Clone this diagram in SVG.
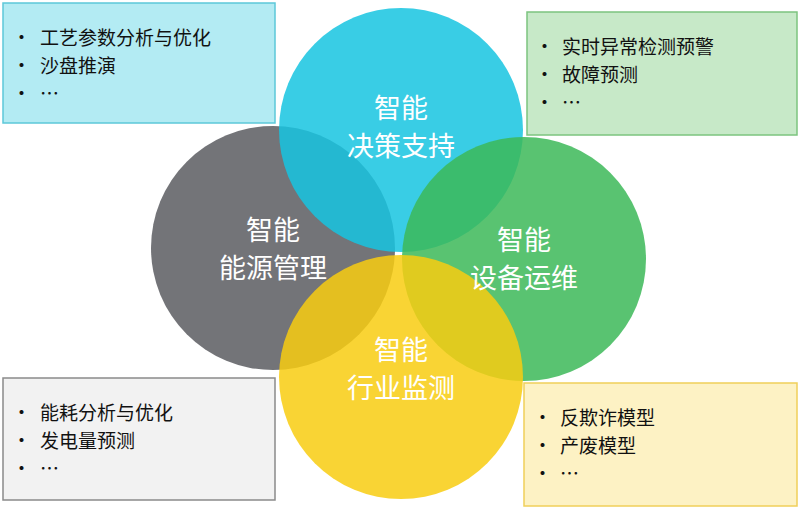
<svg xmlns="http://www.w3.org/2000/svg" width="800" height="508" viewBox="0 0 800 508">
<style>
text{font-family:"Noto Sans CJK SC","Liberation Sans",sans-serif}
.c{opacity:0.85}
.ct{fill:#fff;font-size:27px;text-anchor:middle}
.bt{fill:#111;font-size:19px}
</style>
<rect width="800" height="508" fill="#fff"/>
<g id="nodes">
<g id="energy"><circle class="c" cx="273" cy="248" r="122" fill="#5a5c60"/></g>
<g id="decision"><circle class="c" cx="401" cy="130" r="122" fill="#16c4e0"/></g>
<g id="device"><circle class="c" cx="524" cy="259" r="122" fill="#3cb858"/></g>
<g id="industry"><circle class="c" cx="401" cy="377" r="122" fill="#f8cc10"/></g>
<g id="labels">
<text class="ct" x="401" y="118">智能</text><text class="ct" x="401" y="156">决策支持</text>
<text class="ct" x="273" y="240">智能</text><text class="ct" x="273" y="278">能源管理</text>
<text class="ct" x="524" y="250">智能</text><text class="ct" x="524" y="288">设备运维</text>
<text class="ct" x="401" y="360">智能</text><text class="ct" x="401" y="398">行业监测</text>
</g>
<g id="box-tl"><rect x="3" y="3" width="272" height="120" fill="#b3ebf3" stroke="#5cc8d9" stroke-width="1.5"/>
<text class="bt" x="12" y="45">•</text><text class="bt" x="40" y="45">工艺参数分析与优化</text>
<text class="bt" x="12" y="73">•</text><text class="bt" x="40" y="73">沙盘推演</text>
<text class="bt" x="12" y="101">•</text><text class="bt" x="40" y="101">…</text></g>
<g id="box-tr"><rect x="527" y="12" width="270" height="123" fill="#c7e9c8" stroke="#7cc47f" stroke-width="1.5"/>
<text class="bt" x="535" y="54">•</text><text class="bt" x="562" y="54">实时异常检测预警</text>
<text class="bt" x="535" y="82">•</text><text class="bt" x="562" y="82">故障预测</text>
<text class="bt" x="535" y="110">•</text><text class="bt" x="562" y="110">…</text></g>
<g id="box-bl"><rect x="3" y="378" width="272" height="122" fill="#f2f2f2" stroke="#8a8a8a" stroke-width="1.5"/>
<text class="bt" x="12" y="420">•</text><text class="bt" x="40" y="420">能耗分析与优化</text>
<text class="bt" x="12" y="448">•</text><text class="bt" x="40" y="448">发电量预测</text>
<text class="bt" x="12" y="476">•</text><text class="bt" x="40" y="476">…</text></g>
<g id="box-br"><rect x="524" y="383" width="273" height="123" fill="#fdf2c4" stroke="#f0cf5a" stroke-width="1.5"/>
<text class="bt" x="533" y="425">•</text><text class="bt" x="560" y="425">反欺诈模型</text>
<text class="bt" x="533" y="453">•</text><text class="bt" x="560" y="453">产废模型</text>
<text class="bt" x="533" y="481">•</text><text class="bt" x="560" y="481">…</text></g>
</g>
<g id="connectors"/>
</svg>
